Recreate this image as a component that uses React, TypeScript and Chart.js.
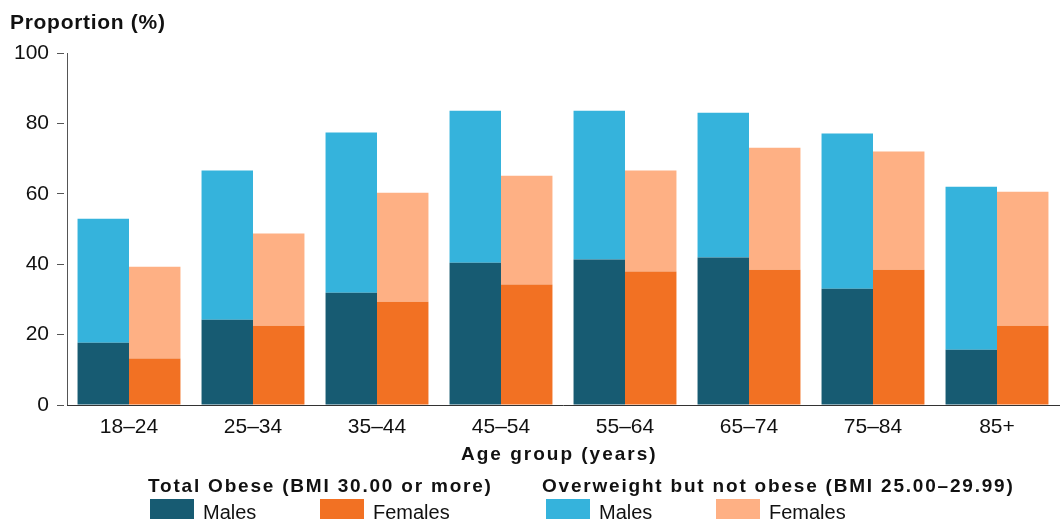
import React, { useEffect, useRef } from "react";
import { Chart, registerables } from "chart.js";

Chart.register(...registerables);

const categories = ["18–24", "25–34", "35–44", "45–54", "55–64", "65–74", "75–84", "85+"];
const malesObese = [17.7, 24.2, 31.9, 40.4, 41.3, 41.9, 33.0, 15.7];
const malesOverweight = [35.2, 42.4, 45.5, 43.2, 42.3, 41.1, 44.1, 46.3];
const femalesObese = [13.2, 22.5, 29.3, 34.2, 37.9, 38.4, 38.4, 22.5];
const femalesOverweight = [26.1, 26.2, 31.0, 30.9, 28.7, 34.7, 33.6, 38.1];
const yTicks = [0, 20, 40, 60, 80, 100];

const yTitle = "Proportion (%)";
const xTitle = "Age group (years)";
const groupTitles = ["Total Obese (BMI 30.00 or more)", "Overweight but not obese (BMI 25.00–29.99)"];
const sexLabels = ["Males", "Females"];

const C_TEAL = "#175B72";
const C_ORANGE = "#F27123";
const C_BLUE = "#35B3DC";
const C_PEACH = "#FEB084";

const FONT = '"Liberation Sans", Arial, sans-serif';

const overlayPlugin = {
  id: "overlay",
  afterDraw(chart: any) {
    const ctx = chart.ctx as CanvasRenderingContext2D;
    ctx.save();
    ctx.fillStyle = "#111";
    ctx.textBaseline = "alphabetic";
    ctx.textAlign = "left";
    // y title
    ctx.font = `bold 21px ${FONT}`;
    (ctx as any).letterSpacing = "0.7px";
    ctx.fillText(yTitle, 10, 28.5);
    // x title
    ctx.font = `bold 19px ${FONT}`;
    (ctx as any).letterSpacing = "2px";
    ctx.fillText(xTitle, 461, 460);
    // legend headers
    (ctx as any).letterSpacing = "1.8px";
    ctx.fillText(groupTitles[0], 148, 492);
    ctx.fillText(groupTitles[1], 542, 492);
    (ctx as any).letterSpacing = "0px";
    // legend items
    const items = [
      { x: 150, color: C_TEAL, label: sexLabels[0] },
      { x: 320, color: C_ORANGE, label: sexLabels[1] },
      { x: 546, color: C_BLUE, label: sexLabels[0] },
      { x: 716, color: C_PEACH, label: sexLabels[1] },
    ];
    ctx.font = `20px ${FONT}`;
    for (const it of items) {
      ctx.fillStyle = it.color;
      ctx.fillRect(it.x, 499, 44, 20);
      ctx.fillStyle = "#111";
      ctx.fillText(it.label, it.x + 53, 519);
    }
    ctx.restore();
  },
};

export default function App() {
  const ref = useRef<HTMLCanvasElement>(null);
  useEffect(() => {
    if (!ref.current) return;
    const chart = new Chart(ref.current, {
      type: "bar",
      data: {
        labels: categories,
        datasets: [
          { label: "Obese Males", data: malesObese, backgroundColor: C_TEAL, stack: "m" },
          { label: "Overweight Males", data: malesOverweight, backgroundColor: C_BLUE, stack: "m" },
          { label: "Obese Females", data: femalesObese, backgroundColor: C_ORANGE, stack: "f" },
          { label: "Overweight Females", data: femalesOverweight, backgroundColor: C_PEACH, stack: "f" },
        ],
      },
      options: {
        animation: false,
        responsive: false,
        maintainAspectRatio: false,
        layout: { padding: { top: 53, left: 0, right: 4, bottom: 0 } },
        datasets: { bar: { categoryPercentage: 0.83, barPercentage: 1, borderWidth: 0 } },
        plugins: { legend: { display: false }, tooltip: { enabled: false }, title: { display: false } },
        scales: {
          x: {
            stacked: true,
            offset: true,
            grid: { display: false, drawTicks: false },
            border: { display: true, color: "#333", width: 1, z: 1 },
            ticks: { font: { family: FONT, size: 21 }, color: "#111", padding: 10, maxRotation: 0 },
            afterFit: (s: any) => { s.height = 118; },
          },
          y: {
            stacked: true,
            min: 0,
            max: 100,
            afterBuildTicks: (s: any) => { s.ticks = yTicks.map((v) => ({ value: v })); },
            grid: {
              drawOnChartArea: false,
              drawTicks: true,
              tickLength: 10,
              tickColor: "#555",
              tickBorderDash: [7, 10],
            },
            border: { display: true, color: "#555", width: 1 },
            ticks: { font: { family: FONT, size: 21 }, color: "#111", padding: 8 },
            afterFit: (s: any) => { s.width = 67; },
          },
        },
      },
      plugins: [overlayPlugin],
    });
    return () => chart.destroy();
  }, []);
  return (
    <div style={{ position: "absolute", left: 0, top: 0, width: 1063, height: 523, background: "#fff" }}>
      <canvas ref={ref} width={1063} height={523} style={{ display: "block", width: 1063, height: 523 }} />
    </div>
  );
}
